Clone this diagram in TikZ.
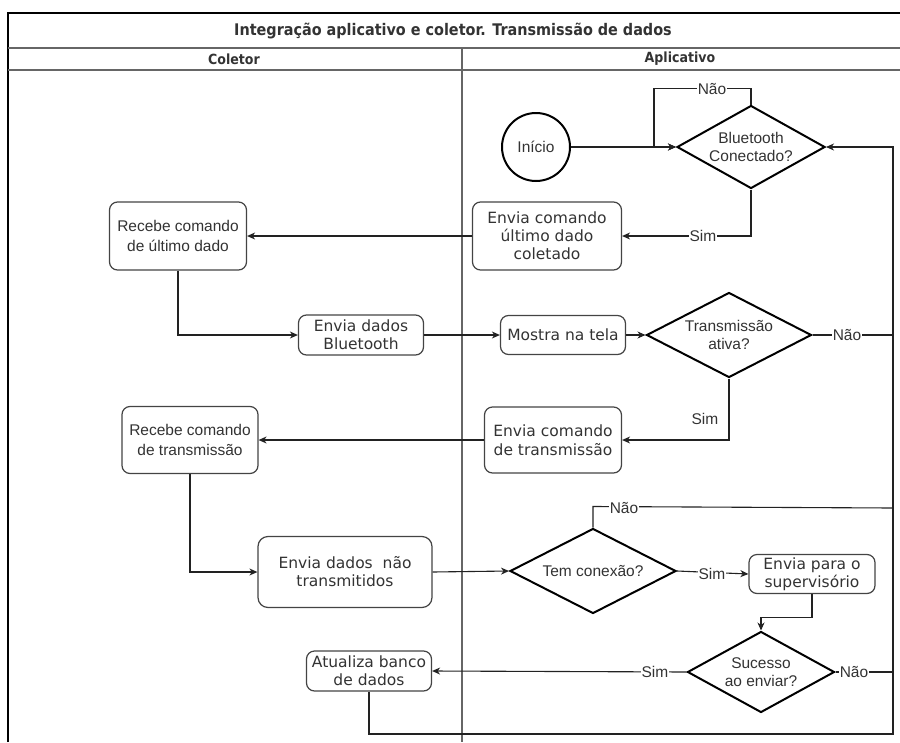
\documentclass[tikz,border=0pt]{standalone}
\usepackage{fontspec}
\usetikzlibrary{shapes.geometric,arrows.meta}
\newfontfamily\arialf{Liberation Sans}
\newfontfamily\verdf{DejaVu Sans}
\newfontfamily\headf{DejaVu Sans Condensed}
\definecolor{ink}{HTML}{333333}
\definecolor{boxline}{HTML}{444444}
\definecolor{wire}{HTML}{222222}
\definecolor{lanegray}{HTML}{666666}

\tikzset{
  >={Stealth[length=8pt,width=7pt,inset=2.5pt]},
  procV/.style={draw=boxline, line width=1.2pt, rounded corners=8pt, fill=white,
    align=center, text=ink, inner sep=0pt, font=\verdf\fontsize{15.5}{18}\selectfont},
  procA/.style={procV, font=\arialf\fontsize{15.5}{20.5}\selectfont},
  decision/.style={draw=black, line width=2pt, shape=diamond, inner sep=0pt, fill=white},
  dlab/.style={align=center, text=ink, inner sep=0pt, font=\arialf\fontsize{15.5}{18}\selectfont},
  startnode/.style={draw=black, line width=2pt, circle, minimum size=68pt, inner sep=0pt,
    text=ink, font=\arialf\fontsize{15.5}{18}\selectfont},
  flow/.style={draw=wire, line width=1.1pt},
  elab/.style={fill=white, inner sep=1pt, text=ink, font=\arialf\fontsize{15.5}{18}\selectfont},
  plainlab/.style={inner sep=1pt, text=ink, font=\arialf\fontsize{15.5}{18}\selectfont},
  headtxt/.style={text=ink, font=\headf\bfseries\fontsize{16}{18}\selectfont},
  subhead/.style={text=ink, font=\headf\bfseries\fontsize{14}{16}\selectfont}
}

\begin{document}
\begin{tikzpicture}[x=1pt,y=-1pt]
\useasboundingbox (0,0) rectangle (900,742);

% pool frame and lanes
\draw[black, line width=1.6pt] (8,742) -- (8,13) -- (900,13);
\draw[lanegray, line width=1.6pt] (8,48) -- (900,48);
\draw[lanegray, line width=1.6pt] (8,70) -- (900,70);
\draw[lanegray, line width=1.6pt] (462,48) -- (462,742);

\node[headtxt] (title) at (453,31) {Integração aplicativo e coletor. Transmissão de dados};
\node[subhead] (hcol) at (234,59) {Coletor};
\node[subhead] (happ) at (680,59) {Aplicativo};

% loop-back rail on the right
\coordinate (railB) at (893,734);

% nodes
\node[startnode] (inicio) at (536,147) {Início};
\node[decision, minimum width=148pt, minimum height=83pt,
      label={[dlab]center:Bluetooth\\Conectado?}] (bt) at (751,147) {};
\node[procV, minimum width=149pt, minimum height=68pt] (env1) at (547,236) {Envia comando\\último dado\\coletado};
\node[procA, minimum width=137pt, minimum height=68pt] (rec1) at (178,236) {Recebe comando\\de último dado};
\node[procV, minimum width=125pt, minimum height=40pt] (envbt) at (361,335) {Envia dados\\Bluetooth};
\node[procV, minimum width=125pt, minimum height=39pt] (mostra) at (563,335) {Mostra na tela};
\node[decision, minimum width=165pt, minimum height=85pt,
      label={[dlab]center:Transmissão\\ativa?}] (trans) at (729,335) {};
\node[procV, minimum width=137pt, minimum height=66pt, font=\verdf\fontsize{15.5}{19}\selectfont] (envtr) at (553,440) {Envia comando\\de transmissão};
\node[procA, minimum width=136pt, minimum height=67pt] (rectr) at (190,440) {Recebe comando\\de transmissão};
\node[procV, minimum width=174pt, minimum height=71pt, rounded corners=10pt] (envnt) at (345,572) {Envia dados\ \ não\\transmitidos};
\node[decision, minimum width=166pt, minimum height=85pt,
      label={[dlab]center:Tem conexão?}] (tem) at (593,571) {};
\node[procV, minimum width=126pt, minimum height=39pt] (envsup) at (812,574) {Envia para o\\supervisório};
\node[decision, minimum width=147pt, minimum height=81pt,
      label={[dlab]center:Sucesso\\ao enviar?}] (suc) at (761,672) {};
\node[procV, minimum width=125pt, minimum height=40pt] (atu) at (369,671) {Atualiza banco\\de dados};

% connectors
\draw[flow, ->] (inicio.east) -- (bt.west);
\draw[flow, ->] (bt.north) -- ++(0,-16) -| (654,147) -- (bt.west);
\node[elab] (lbtn) at (712,89) {Não};

\draw[flow, ->] (bt.south) |- (env1.east);
\node[elab] (lbts) at (703,236) {Sim};

\draw[flow, ->] (env1.west) -- (rec1.east);
\draw[flow, ->] (rec1.south) |- (envbt.west);
\draw[flow, ->] (envbt.east) -- (mostra.west);
\draw[flow, ->] (mostra.east) -- (trans.west);

\draw[flow] (trans.east) -- (railB |- trans.east);
\node[elab] (ltrn) at (847,335) {Não};
\draw[flow, ->] (trans.south) |- (envtr.east);
\node[plainlab] (ltrs) at (705,419) {Sim};

\draw[flow, ->] (envtr.west) -- (rectr.east);
\draw[flow, ->] (rectr.south) |- (envnt.west);
\draw[flow, ->] (envnt.east) -- (tem.west);

\draw[flow] (tem.north) -- ++(0,-21) -- (893,508);
\node[elab] (ltemn) at (624,508) {Não};
\draw[flow, ->] (tem.east) -- (envsup.west);
\node[elab] (ltems) at (712,574) {Sim};

\draw[flow, ->] (envsup.south) -- ++(0,23) -| (suc.north);

\draw[flow] (suc.east) -- (railB |- suc.east);
\node[elab] (lsucn) at (854,672) {Não};
\draw[flow, ->] (suc.west) -- (atu.east);
\node[elab] (lsucs) at (655,672) {Sim};

\draw[flow, ->] (atu.south) |- (railB) |- (bt.east);
\end{tikzpicture}
\end{document}
